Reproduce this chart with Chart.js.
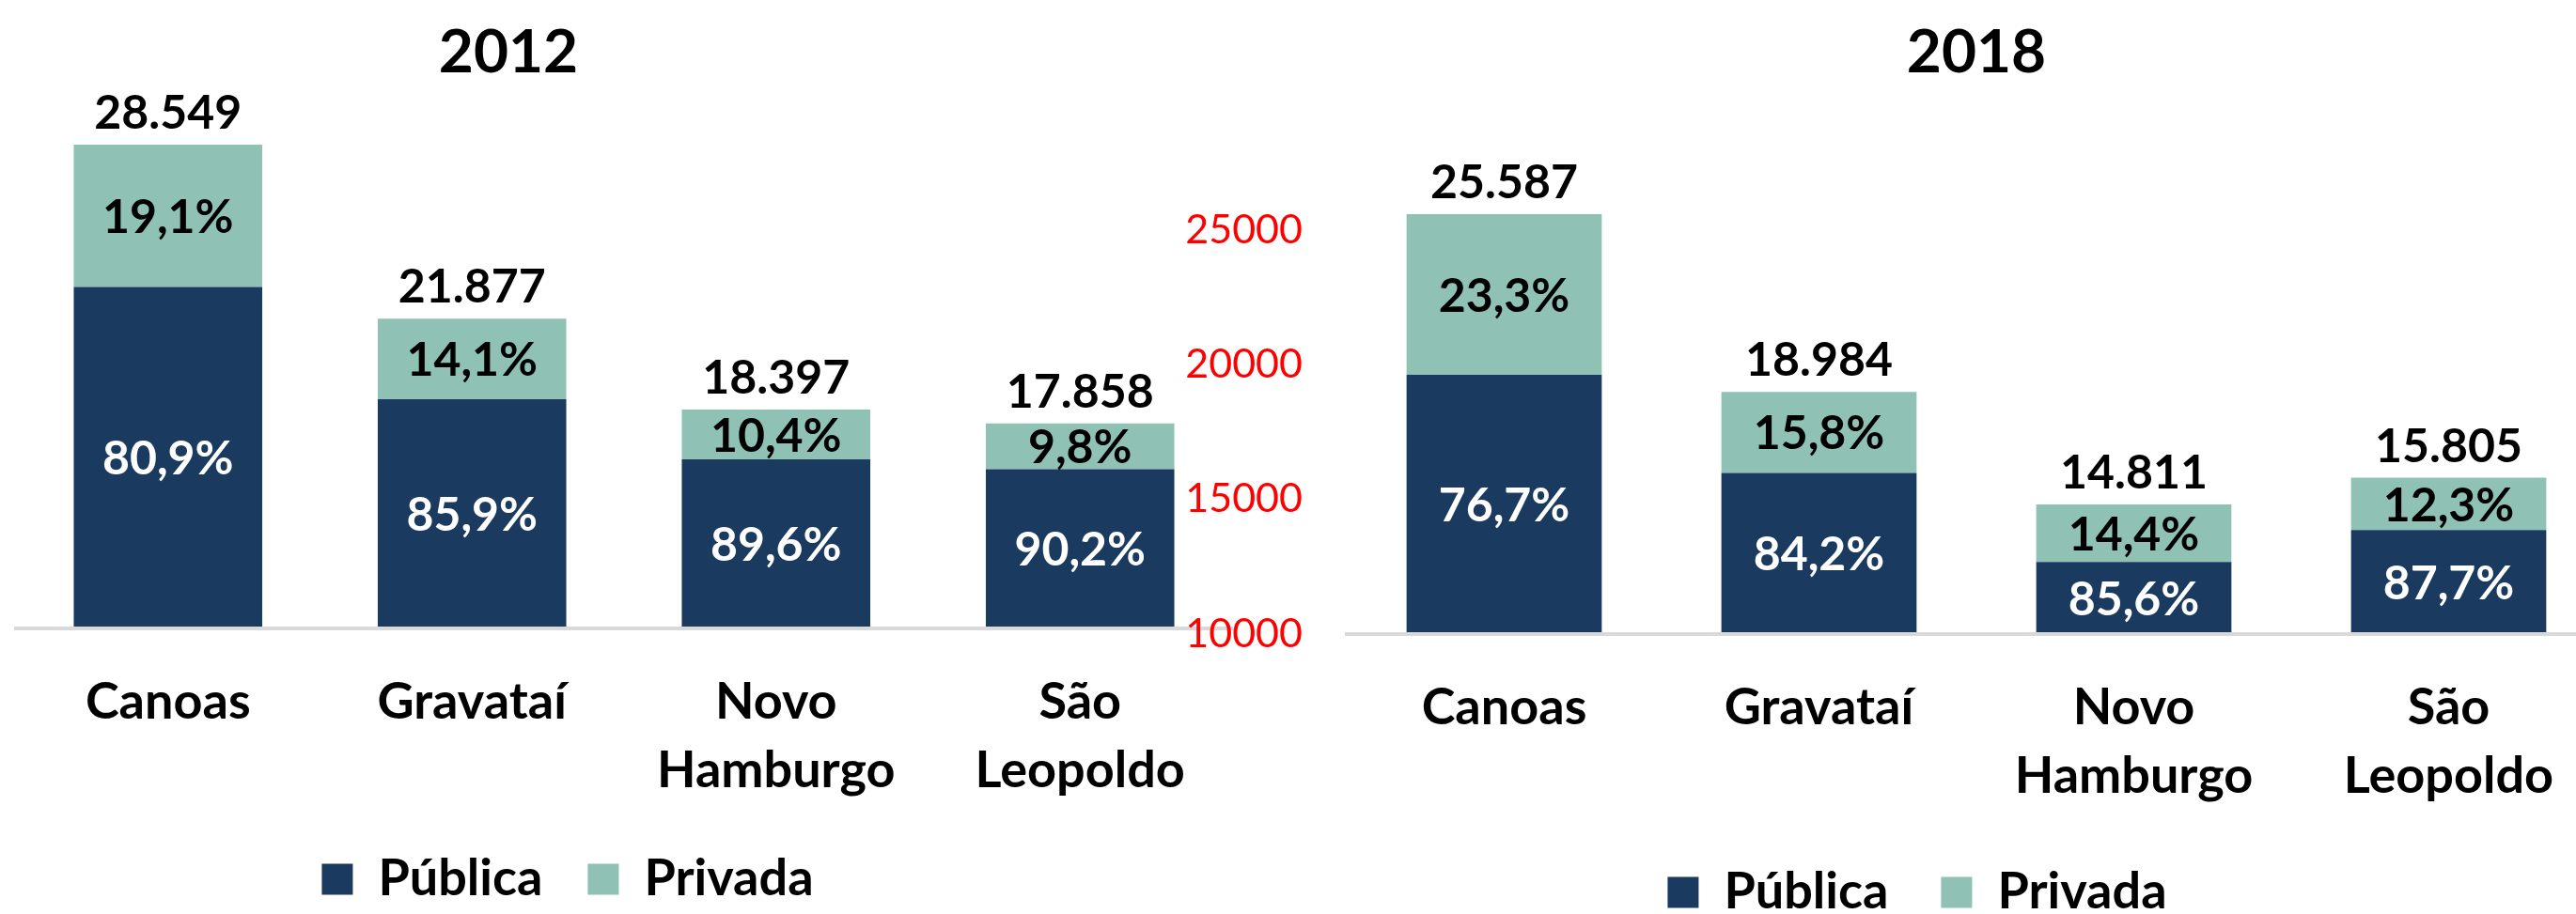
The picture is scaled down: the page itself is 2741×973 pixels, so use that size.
<!DOCTYPE html>
<html>
<head>
<meta charset="utf-8">
<script src="https://cdn.jsdelivr.net/npm/chart.js@4/dist/chart.umd.min.js"></script>
<style>
  html, body { margin: 0; padding: 0; background: #fff; overflow: hidden; width: 2741px; height: 973px; }
  canvas { position: absolute; top: 0; }
  #c2012 { left: 0; }
  #c2018 { left: 1250px; }
</style>
</head>
<body>
<canvas id="c2012" width="1330" height="973"></canvas>
<canvas id="c2018" width="1525" height="987"></canvas>
<script>
const cities = [['Canoas'], ['Gravataí'], ['Novo', 'Hamburgo'], ['São', 'Leopoldo']];

// 2012
const total2012 = [28549, 21877, 18397, 17858];
const pub2012 = [80.9, 85.9, 89.6, 90.2];
const priv2012 = [19.1, 14.1, 10.4, 9.8];

// 2018
const total2018 = [25587, 18984, 14811, 15805];
const pub2018 = [76.7, 84.2, 85.6, 87.7];
const priv2018 = [23.3, 15.8, 14.4, 12.3];

const yTicks = [10000, 15000, 20000, 25000];

const NAVY = '#1b3a5f';
const TEAL = '#8fc2b4';
const FONT = 'Lato';

const fmtNum = n => String(n).replace(/\B(?=(\d{3})+(?!\d))/g, '.');
const fmtPct = p => p.toFixed(1).replace('.', ',') + '%';

// labels on and above the bars
function barLabels(totals, pub, priv) {
  return {
    id: 'barLabels',
    afterDatasetsDraw(chart) {
      const ctx = chart.ctx;
      const area = chart.chartArea;
      const a = chart.getDatasetMeta(0).data;
      const b = chart.getDatasetMeta(1).data;
      ctx.save();
      ctx.font = 'bold 50px ' + FONT;
      ctx.textAlign = 'center';
      ctx.textBaseline = 'middle';
      a.forEach((bar, i) => {
        const bottom = Math.min(bar.base, area.bottom);
        ctx.fillStyle = '#fff';
        ctx.fillText(fmtPct(pub[i]), bar.x, (bar.y + bottom) / 2 + 2);
        ctx.fillStyle = '#000';
        ctx.fillText(fmtPct(priv[i]), b[i].x, (b[i].y + b[i].base) / 2 + 2);
        ctx.fillText(fmtNum(totals[i]), b[i].x, b[i].y - 33);
      });
      ctx.restore();
    }
  };
}

// move title / legend sideways relative to the plot centre
const shift = {
  id: 'shift',
  afterLayout(chart, args, opts) {
    const mid = (chart.chartArea.left + chart.chartArea.right) / 2;
    [[chart.titleBlock, opts.title], [chart.legend, opts.legend]].forEach(([box, off]) => {
      if (!box) return;
      const w = box.right - box.left;
      box.left = mid + (off || 0) - w / 2;
      box.right = box.left + w;
    });
  }
};

function makeChart(id, year, totals, pub, priv, cfg) {
  return new Chart(document.getElementById(id), {
    type: 'bar',
    data: {
      labels: cities,
      datasets: [
        { label: 'Pública', data: totals.map((t, i) => t * pub[i] / 100), backgroundColor: NAVY },
        { label: 'Privada', data: totals.map((t, i) => t * priv[i] / 100), backgroundColor: TEAL }
      ]
    },
    options: {
      responsive: false,
      animation: false,
      layout: { padding: cfg.padding },
      datasets: { bar: { categoryPercentage: 1, barPercentage: 0.62 } },
      scales: {
        x: {
          stacked: true,
          afterFit: s => { s.height = 192; },
          grid: { display: false, drawTicks: false },
          border: { display: true, color: '#d9d9d9', width: 4, z: 1 },
          ticks: { color: '#000', padding: 42, font: { family: FONT, size: 54, weight: 'bold', lineHeight: 1.35 } }
        },
        y: {
          stacked: true,
          display: cfg.showY,
          min: 10000,
          max: cfg.max,
          position: 'left',
          afterFit: s => { if (cfg.yWidth) s.width = cfg.yWidth; },
          afterBuildTicks: s => { s.ticks = yTicks.map(v => ({ value: v })); },
          grid: { display: false, drawTicks: false },
          border: { display: false },
          ticks: {
            color: '#ff0000',
            padding: 47,
            font: { family: FONT, size: 43 },
            callback: v => String(v)
          }
        }
      },
      plugins: {
        title: {
          display: true,
          text: year,
          color: '#000',
          font: { family: FONT, size: 64, weight: 'bold' },
          padding: { top: 18, bottom: cfg.titleBottom }
        },
        legend: {
          position: 'bottom',
          labels: {
            color: '#000',
            boxWidth: 33,
            boxHeight: 33,
            padding: cfg.legendPad,
            font: { family: FONT, size: 54, weight: 'bold' }
          }
        },
        tooltip: { enabled: false },
        shift: cfg.shift
      }
    },
    plugins: [barLabels(totals, pub, priv), shift]
  });
}

makeChart('c2012', '2012', total2012, pub2012, priv2012, {
  padding: { left: 17, right: 19, top: 0, bottom: 0 },
  showY: false, max: 30000, titleBottom: 19, legendPad: 48,
  shift: { title: -123, legend: -60 }
});

makeChart('c2018', '2018', total2018, pub2018, priv2018, {
  padding: { left: 0, right: 2, top: 0, bottom: 0 },
  showY: true, yWidth: 183, max: 28000, titleBottom: 64, legendPad: 56,
  shift: { title: 0, legend: -63 }
});
</script>
</body>
</html>
